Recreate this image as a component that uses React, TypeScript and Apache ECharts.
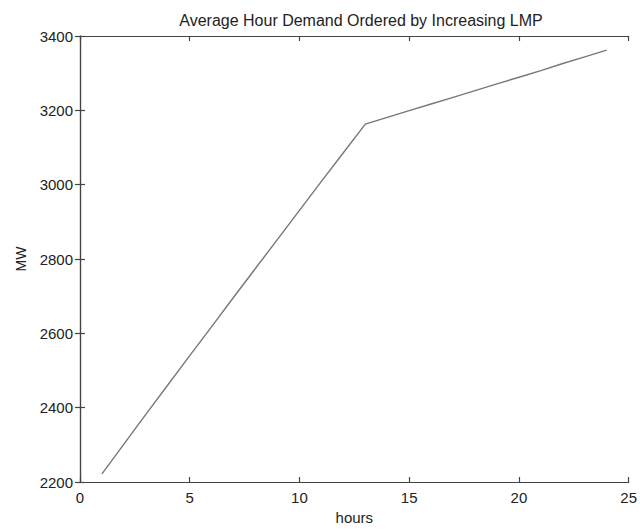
import React, { useEffect, useRef } from "react";
import * as echarts from "echarts";

const titleText = "Average Hour Demand Ordered by Increasing LMP";
const xName = "hours";
const yName = "MW";
const hours = [1, 2, 3, 4, 5, 6, 7, 8, 9, 10, 11, 12, 13, 14, 15, 16, 17, 18, 19, 20, 21, 22, 23, 24];
const demand = [2222, 2302, 2382, 2461, 2540, 2618, 2697, 2775, 2853, 2931, 3009, 3086, 3163, 3181, 3199, 3217, 3235, 3253, 3271, 3289, 3307, 3326, 3344, 3362];
const xMin = 0, xMax = 25, xStep = 5;
const yMin = 2200, yMax = 3400, yStep = 200;

const FONT = "Liberation Sans, Arial, sans-serif";
const axisColor = "#444";

export default function App() {
  const ref = useRef<HTMLDivElement>(null);
  useEffect(() => {
    if (!ref.current) return;
    const chart = echarts.init(ref.current, null, { renderer: "svg" });
    const lineStyle = { color: axisColor, width: 1.2 };
    const tick = { show: true, inside: true, length: 5, lineStyle };
    const label = { color: "#222", fontSize: 15, fontFamily: FONT, formatter: (v: number) => String(v) };
    chart.setOption({
      animation: false,
      backgroundColor: "#fff",
      title: {
        text: titleText,
        left: 356,
        textAlign: "center",
        top: 7,
        textStyle: { fontSize: 16, fontWeight: "normal", color: "#222", fontFamily: FONT },
      },
      grid: { left: 80, right: 8, top: 36, bottom: 48 },
      xAxis: [
        {
          type: "value", min: xMin, max: xMax, interval: xStep, position: "bottom",
          axisLine: { show: true, lineStyle }, axisTick: tick, splitLine: { show: false },
          axisLabel: { ...label, margin: 8 },
          name: xName, nameLocation: "middle", nameGap: 28,
          nameTextStyle: { color: "#222", fontSize: 15, fontFamily: FONT },
        },
        {
          type: "value", min: xMin, max: xMax, interval: xStep, position: "top",
          axisLine: { show: true, lineStyle }, axisTick: tick, splitLine: { show: false },
          axisLabel: { show: false },
        },
      ],
      yAxis: [
        {
          type: "value", min: yMin, max: yMax, interval: yStep, position: "left",
          axisLine: { show: true, lineStyle }, axisTick: tick, splitLine: { show: false },
          axisLabel: { ...label, margin: 7 },
          name: yName, nameLocation: "middle", nameGap: 52, nameRotate: 90,
          nameTextStyle: { color: "#222", fontSize: 14, fontFamily: FONT },
        },
        {
          type: "value", min: yMin, max: yMax, interval: yStep, position: "right",
          axisLine: { show: true, lineStyle }, axisTick: tick, splitLine: { show: false },
          axisLabel: { show: false },
        },
      ],
      series: [
        {
          type: "line",
          data: hours.map((h, i) => [h, demand[i]]),
          showSymbol: false,
          lineStyle: { color: "#777", width: 1.4 },
        },
      ],
    });
    return () => chart.dispose();
  }, []);
  return (
    <div
      ref={ref}
      style={{ position: "absolute", left: 0, top: 0, width: 640, height: 530, background: "#fff" }}
    />
  );
}
